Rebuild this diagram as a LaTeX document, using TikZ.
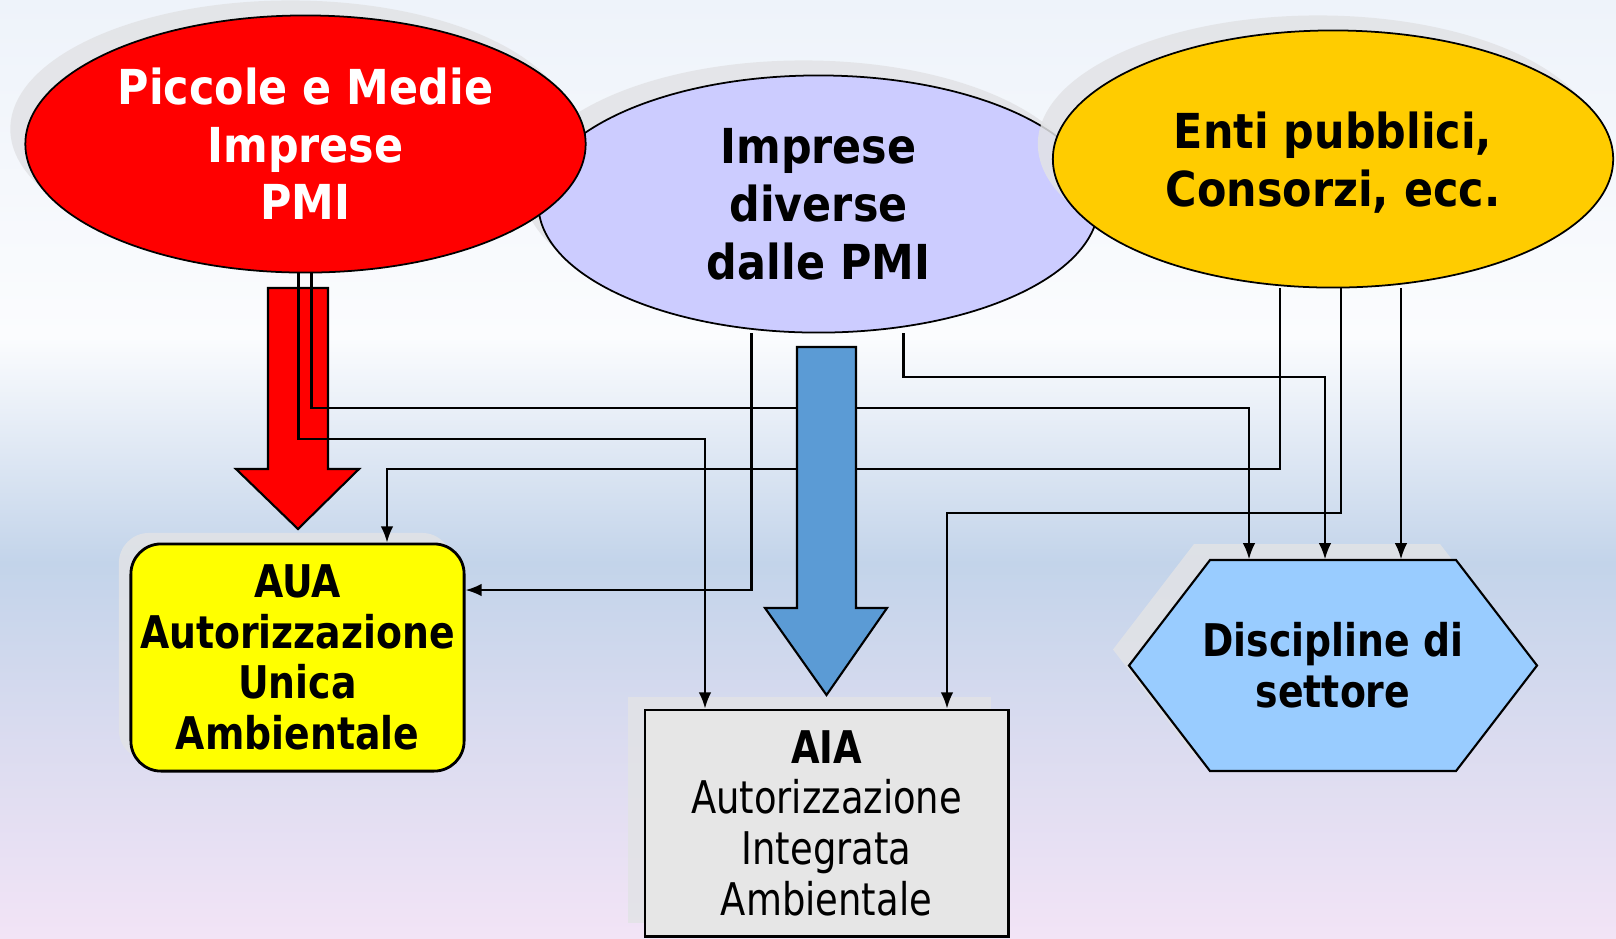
\documentclass[tikz,border=0pt]{standalone}
\usepackage{fontspec}
\setmainfont{DejaVu Sans}[FakeStretch=0.84]
\newfontfamily\bubblefont{DejaVu Sans}[FakeStretch=0.89]
\newfontfamily\aiafont{DejaVu Sans}[FakeStretch=0.82]
\usetikzlibrary{shapes.geometric,arrows.meta,shadows,calc}

\definecolor{pmired}{RGB}{255,0,0}
\definecolor{idelilac}{RGB}{204,204,255}
\definecolor{entigold}{RGB}{255,204,0}
\definecolor{auayellow}{RGB}{255,255,0}
\definecolor{aiagrey}{RGB}{230,230,230}
\definecolor{dsblue}{RGB}{153,204,255}
\definecolor{arrowblue}{RGB}{91,155,213}
\definecolor{shadowgrey}{RGB}{226,227,230}
\definecolor{bgtop}{RGB}{238,243,250}
\definecolor{bgwhite}{RGB}{251,252,254}
\definecolor{bgblue}{RGB}{195,212,234}
\definecolor{bglav}{RGB}{220,220,240}
\definecolor{bgpink}{RGB}{242,228,246}

\pgfdeclareverticalshading{backdrop}{100bp}{color(0bp)=(bgpink); color(25bp)=(bgpink); color(35bp)=(bglav); color(45bp)=(bgblue); color(57bp)=(bgwhite); color(75bp)=(bgtop); color(100bp)=(bgtop)}

\begin{document}
\begin{tikzpicture}[x=0.01cm,y=-0.01cm,
    bubble/.style={ellipse,draw,line width=0.5pt,minimum width=5.6cm,minimum height=2.57cm,
      inner sep=0pt,align=center,font=\bubblefont\fontsize{13.7}{16.4}\selectfont\bfseries,
      drop shadow={shadow xshift=-0.15cm,shadow yshift=0.15cm,fill=shadowgrey,opacity=0.85}},
    permit/.style={draw,line width=0.8pt,minimum width=3.33cm,minimum height=2.27cm,
      inner sep=0pt,align=center,font=\fontsize{12.8}{14.4}\selectfont},
    conn/.style={line width=0.6pt,-{Latex[length=4.6pt,width=3.6pt]}},
    bigarrow/.style={draw,line width=0.6pt}]

	\useasboundingbox (0,0) rectangle (1616,938);
	\shade[shading=backdrop] (0,0) rectangle (1616,938);

	% the three groups of applicants
	\node[bubble,fill=idelilac,text depth=-0.1cm] (ide) at (818.5,204) {Imprese\\diverse\\dalle PMI};
	\node[bubble,fill=pmired,text=white] (pmi) at (305.5,144) {Piccole e Medie\\Imprese\\PMI};
	\node[bubble,fill=entigold,text depth=-0.1cm] (enti) at (1333,159) {Enti pubblici,\\Consorzi, ecc.};

	% the permits
	\node[permit,fill=auayellow,rounded corners=0.3cm,font=\fontsize{12.8}{14.4}\selectfont\bfseries,
		drop shadow={shadow xshift=-0.12cm,shadow yshift=0.11cm,fill=shadowgrey,opacity=0.85}]
		(aua) at (297.5,657.5) {AUA\\Autorizzazione\\Unica\\Ambientale};
	\node[permit,fill=aiagrey,minimum width=3.63cm,minimum height=2.26cm,font=\aiafont\fontsize{12.8}{14.4}\selectfont,
		drop shadow={shadow xshift=-0.17cm,shadow yshift=0.13cm,fill=shadowgrey,opacity=0.85}]
		(aia) at (826.5,823) {\textbf{AIA}\\Autorizzazione\\Integrata\\Ambientale};

	\fill[shadowgrey,opacity=0.85] (1113,649.5) -- (1194,544) -- (1440,544) -- (1521,649.5)
		-- (1440,755) -- (1194,755) -- cycle;
	\draw[line width=0.6pt,fill=dsblue] (1129,665.5) -- (1210,560) -- (1456,560) -- (1537,665.5)
		-- (1456,771) -- (1210,771) -- cycle;
	\node[inner sep=0pt,minimum width=2.46cm,minimum height=2.11cm,align=center,
		font=\fontsize{12.8}{14.4}\selectfont\bfseries] (ds) at (1333,665.5) {Discipline di\\settore};

	% red block arrow
	\draw[bigarrow,fill=pmired] (268,288) -- (328,288) -- (328,469) -- (359,469) -- (298,529)
		-- (236,469) -- (268,469) -- cycle;

	\draw[conn] ($(pmi.south)+(6,0)$) |- (1249,408) -- ($(ds.north)+(-84,0)$);
	\draw[conn] ($(pmi.south)+(-7,0)$) |- (705,439) -- ($(aia.north)+(-121.5,0)$);

	\draw[conn] ($(ide.south)+(-67,0)$) |- ($(aua.east)+(0,-67.5)$);
	\draw[conn] ($(ide.south)+(85,0)$) |- (1325,377) -- ($(ds.north)+(-8,0)$);

	\draw[conn] ($(enti.south)+(-53,0)$) |- (387,469) -- ($(aua.north)+(89.5,0)$);
	\draw[conn] ($(enti.south)+(8,0)$) |- (947,513) -- ($(aia.north)+(120.5,0)$);
	\draw[conn] ($(enti.south)+(68,0)$) -- ($(ds.north)+(68,0)$);

	% blue block arrow
	\draw[bigarrow,fill=arrowblue] (797,347) -- (856,347) -- (856,608) -- (887,608) -- (826.5,695)
		-- (765,608) -- (797,608) -- cycle;
\end{tikzpicture}
\end{document}
